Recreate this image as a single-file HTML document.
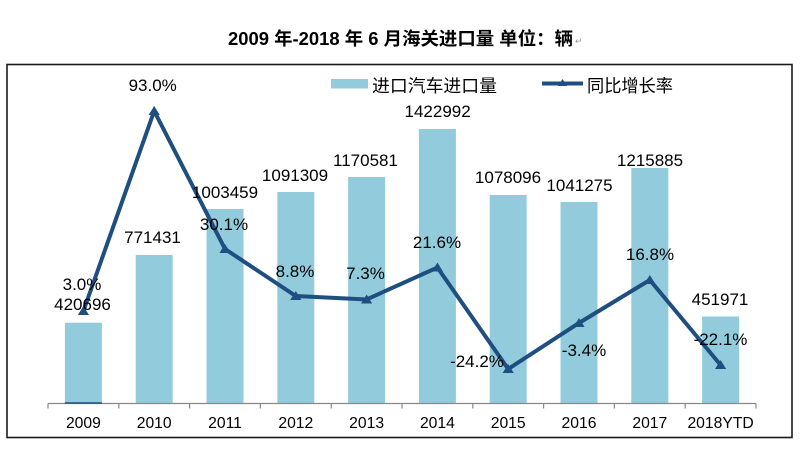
<!DOCTYPE html>
<html><head><meta charset="utf-8"><style>
html,body{margin:0;padding:0;background:#fff;}
svg{display:block;}
text{font-family:"Liberation Sans","Noto Sans CJK SC",sans-serif;fill:#000;}
</style></head><body>
<svg width="800" height="450" viewBox="0 0 800 450" xmlns="http://www.w3.org/2000/svg">
<rect x="0" y="0" width="800" height="450" fill="#fff"/>
<!-- title -->
<text x="228" y="45" font-size="18" font-weight="bold" textLength="345" lengthAdjust="spacingAndGlyphs">2009 年-2018 年 6 月海关进口量  单位：辆</text>
<text x="575" y="44" font-size="9" fill="#999" style="fill:#999">↵</text>
<!-- frame -->
<rect x="7" y="64.5" width="785" height="373" fill="none" stroke="#1a1a1a" stroke-width="1.6"/>
<!-- legend -->
<rect x="331" y="79" width="37" height="9.5" fill="#92CCDC"/>
<text x="372" y="92" font-size="17.5" textLength="125" lengthAdjust="spacingAndGlyphs">进口汽车进口量</text>
<line x1="542" y1="83.5" x2="583" y2="83.5" stroke="#1F4E80" stroke-width="4"/>
<polygon points="562.5,79 567,86 558,86" fill="#1F4E80"/>
<text x="587" y="92" font-size="17.5" textLength="86" lengthAdjust="spacingAndGlyphs">同比增长率</text>
<!-- bars -->
<g fill="#92CCDC">
<rect x="64.9" y="322.7" width="37" height="80.8"/>
<rect x="135.7" y="255" width="37" height="148.5"/>
<rect x="206.5" y="209" width="37" height="194.5"/>
<rect x="277.3" y="192" width="37" height="211.5"/>
<rect x="348.1" y="177" width="37" height="226.5"/>
<rect x="418.9" y="129" width="37" height="274.5"/>
<rect x="489.7" y="195" width="37" height="208.5"/>
<rect x="560.5" y="202" width="37" height="201.5"/>
<rect x="631.3" y="168" width="37" height="235.5"/>
<rect x="702.1" y="316.5" width="37" height="87"/>
</g>
<!-- axis -->
<g stroke="#888" stroke-width="1.2">
<line x1="48" y1="403.5" x2="756" y2="403.5"/>
<line x1="48" y1="403.5" x2="48" y2="408.5"/>
<line x1="118.8" y1="403.5" x2="118.8" y2="408.5"/>
<line x1="189.6" y1="403.5" x2="189.6" y2="408.5"/>
<line x1="260.4" y1="403.5" x2="260.4" y2="408.5"/>
<line x1="331.2" y1="403.5" x2="331.2" y2="408.5"/>
<line x1="402" y1="403.5" x2="402" y2="408.5"/>
<line x1="472.8" y1="403.5" x2="472.8" y2="408.5"/>
<line x1="543.6" y1="403.5" x2="543.6" y2="408.5"/>
<line x1="614.4" y1="403.5" x2="614.4" y2="408.5"/>
<line x1="685.2" y1="403.5" x2="685.2" y2="408.5"/>
<line x1="756" y1="403.5" x2="756" y2="408.5"/>
</g>
<line x1="64.9" y1="403" x2="101.9" y2="403" stroke="#1F4E80" stroke-width="1.5"/>
<!-- x labels -->
<g font-size="15.7" text-anchor="middle">
<text x="83.4" y="428">2009</text>
<text x="154.2" y="428">2010</text>
<text x="225" y="428">2011</text>
<text x="295.8" y="428">2012</text>
<text x="366.6" y="428">2013</text>
<text x="437.4" y="428">2014</text>
<text x="508.2" y="428">2015</text>
<text x="579" y="428">2016</text>
<text x="649.8" y="428">2017</text>
<text x="720.6" y="428">2018YTD</text>
</g>
<!-- line -->
<polyline fill="none" stroke="#1F4E80" stroke-width="4" stroke-linejoin="miter" points="83.4,311 154.2,111 225,249 295.8,296 366.6,299.5 437.4,267.5 508.2,369 579,323 649.8,280 720.6,365"/>
<g fill="#1F4E80">
<polygon points="83.4,306 89,315 77.8,315"/>
<polygon points="154.2,106 159.8,115 148.6,115"/>
<polygon points="225,244 230.6,253 219.4,253"/>
<polygon points="295.8,291 301.4,300 290.2,300"/>
<polygon points="366.6,294.5 372.2,303.5 361,303.5"/>
<polygon points="437.4,262.5 443,271.5 431.8,271.5"/>
<polygon points="508.2,364 513.8,373 502.6,373"/>
<polygon points="579,318 584.6,327 573.4,327"/>
<polygon points="649.8,275 655.4,284 644.2,284"/>
<polygon points="720.6,360 726.2,369 715,369"/>
</g>
<!-- data labels -->
<g font-size="17" text-anchor="middle">
<text x="82.5" y="310">420696</text>
<text x="152.5" y="243">771431</text>
<text x="225" y="198">1003459</text>
<text x="295" y="181">1091309</text>
<text x="365.5" y="166">1170581</text>
<text x="437.6" y="117">1422992</text>
<text x="508" y="183">1078096</text>
<text x="579.5" y="191">1041275</text>
<text x="650" y="166">1215885</text>
<text x="720" y="305">451971</text>
<text x="82" y="290">3.0%</text>
<text x="152.7" y="91">93.0%</text>
<text x="224" y="230">30.1%</text>
<text x="295" y="277">8.8%</text>
<text x="365.5" y="279">7.3%</text>
<text x="437" y="248">21.6%</text>
<text x="477" y="367">-24.2%</text>
<text x="584" y="356">-3.4%</text>
<text x="650" y="260">16.8%</text>
<text x="720.5" y="345">-22.1%</text>
</g>
</svg>
</body></html>
